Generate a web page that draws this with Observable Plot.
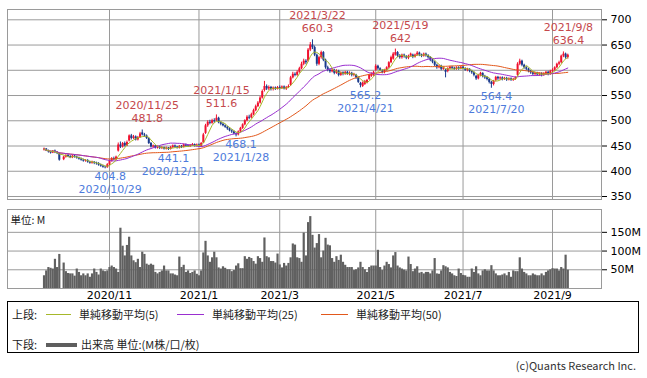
<!DOCTYPE html>
<html>
<head>
<meta charset="utf-8">
<script src="https://cdn.jsdelivr.net/npm/d3@7"></script>
<script src="https://cdn.jsdelivr.net/npm/@observablehq/plot@0.6"></script>
<style>
  html, body { margin: 0; padding: 0; background: #fff; }
  #wrap { position: relative; width: 647px; height: 378px; overflow: hidden; font-family: "DejaVu Sans", "Noto Sans CJK JP", sans-serif; }
  #price { position: absolute; left: 0; top: 0; }
  #vol { position: absolute; left: 0; top: 200px; }
  #legend { position: absolute; left: 7px; top: 301px; width: 632px; height: 52px; border: 1px solid #000; box-sizing: border-box; }
  .lg { position: absolute; font-family: "Noto Sans CJK JP", sans-serif; font-size: 11px; color: #222; line-height: 14px; white-space: nowrap; }
  .ln { position: absolute; height: 1px; }
  #copy { position: absolute; right: 11px; top: 358px; font-family: "Noto Sans CJK JP", sans-serif; font-size: 11px; color: #333; line-height: 14px; }
  #err { position: absolute; left: 10px; top: 10px; color: red; font-size: 12px; }
</style>
</head>
<body>
<div id="wrap">
  <div id="price"></div>
  <div id="vol"></div>
  <div id="legend"></div>
  <div id="copy">(c)Quants Research Inc.</div>
  <div id="err"></div>
</div>
<script>
// ---------- data ----------
const holidays = ["2020-09-21","2020-09-22","2020-11-03","2020-11-23","2020-12-31","2021-01-01","2021-01-11",
  "2021-02-11","2021-02-23","2021-04-29","2021-05-03","2021-05-04","2021-05-05","2021-07-22","2021-07-23","2021-08-09"];

const open = [442,444,440,438,436,440,437,435,
  null,
  423,428,431,429,427,430,428,426,424,422,420,421,418,416,418,416,415,412,410,408,407,
  413,420,425,423,440,452,448,455,450,460,470,465,468,462,467,476,472,470,465,
  455,448,450,446,448,445,447,444,446,443,447,450,448,446,449,447,452,450,449,451,453,450,
  452,449,456,475,490,497,495,500,500,505,496,493,490,487,484,480,478,474,472,
  478,485,492,500,507,506,512,520,528,535,545,560,568,563,566,562,565,563,
  566,564,567,563,566,570,585,592,590,596,603,612,618,618,640,650,645,630,612,625,635,620,605,
  600,597,600,594,598,590,595,592,596,592,594,590,590,585,574,568,572,575,582,588,590,
  600,608,603,598,596,600,605,615,622,630,635,628,625,630,627,624,628,630,
  626,630,634,630,628,632,629,625,620,616,610,605,608,602,600,598,603,606,604,602,605,603,
  606,603,600,602,598,595,588,583,590,594,588,585,582,576,572,580,586,583,585,582,
  584,581,583,580,582,590,612,618,610,605,602,598,595,592,594,591,593,590,593,596,592,
  598,600,605,612,615,628,632,625];

const close = [444,440,438,436,440,437,435,422,
  null,
  428,431,429,427,430,428,426,424,422,420,421,418,416,418,416,415,412,410,408,407,413,
  420,425,423,428,452,448,455,450,457,470,465,468,462,467,474,472,470,465,455,
  448,450,446,448,445,447,444,446,443,447,450,448,446,449,447,452,450,449,451,453,450,452,
  449,455,472,490,497,495,500,498,505,496,493,490,487,484,480,478,474,472,478,
  485,492,500,507,505,512,520,528,535,545,558,568,563,566,562,565,563,566,
  564,567,563,566,568,585,592,590,596,603,612,618,615,640,650,645,630,612,625,635,620,605,600,
  597,600,594,598,590,595,592,596,592,594,590,592,585,576,570,575,578,580,590,592,596,
  608,603,600,596,600,605,615,625,632,635,628,625,630,627,624,628,632,626,
  630,634,630,628,632,629,625,620,616,610,605,608,602,605,596,603,606,604,602,605,603,606,
  603,600,602,598,595,590,583,590,594,588,585,582,576,572,578,586,583,585,582,584,
  581,583,580,582,585,612,618,610,605,602,598,595,592,594,591,593,590,593,596,592,598,
  600,605,612,615,628,632,625,630];

const high = [446,445,442,440,441,442,439,436,
  null,
  430,433,434,431,432,432,430,428,426,424,423,423,420,420,419,418,417,414,412,410,415,
  422,427,428,430,456,458,457,458,460,472,473,471,470,469,477,481.8,475,472,466,
  457,452,451,450,449,449,448,448,447,449,452,452,449,451,451,454,454,452,453,455,454,454,
  454,457,475,493,500,501,503,504,511.6,507,498,495,492,489,486,482,480,476,480,
  487,494,502,510,511,515,523,531,538,548,561,578,571,569,568,567,567,568,
  569,569,569,568,571,588,596,595,599,606,616,622,621,643,655,660.3,648,632,628,638,637,622,608,
  603,603,602,601,600,597,597,598,598,597,596,594,592,587,576,577,580,582,592,595,598,
  611,610,605,601,602,607,617,628,635,642,637,631,632,632,629,630,634,632,
  632,637,636,632,634,634,631,627,622,618,612,610,610,607,602,605,608,608,606,607,607,608,
  608,605,604,603,600,597,590,592,596,595,590,587,584,578,580,588,588,587,587,586,
  586,585,585,584,587,615,622,620,612,607,604,600,597,596,596,595,595,595,598,598,600,
  603,607,614,618,630,636.4,634,632];

const low = [440,439,436,434,435,435,433,420,
  null,
  421,426,427,425,425,426,424,422,420,418,418,416,414,414,413,412,410,408,406,404.8,406,
  411,418,421,421,438,445,446,448,449,458,462,463,460,460,465,470,467,463,453,
  446,446,444,444,443,443,442,442,441.1,442,445,446,444,444,445,446,448,447,447,449,448,448,
  447,447,455,473,487,492,493,495,498,494,490,488,485,481,478,475,472,468.1,470,
  476,483,490,498,502,504,510,518,526,533,543,557,560,560,559,559,560,561,
  561,562,561,560,564,568,583,587,588,594,601,609,611,616,637,641,627,608,609,622,617,602,597,
  594,595,591,592,587,588,589,590,590,589,587,587,582,574,565.2,566,570,573,580,586,588,
  598,600,597,593,593,598,603,613,620,628,625,622,622,624,621,621,626,623,
  624,628,627,625,626,626,622,617,613,607,602,603,599,600,585,595,601,601,600,600,600,601,
  601,598,597,595,592,587,580,581,587,585,582,579,573,564.4,569,577,580,580,579,580,
  578,579,578,578,580,588,609,607,602,599,595,592,589,589,588,588,587,588,590,589,590,
  595,598,603,609,613,625,622,622];

const volume = [34,47,56,54,52,78,56,91,
  null,
  68,45,40,39,39,33,52,43,34,39,34,39,30,39,52,43,36,52,47,45,47,
  56,60,56,52,43,161,113,87,115,137,87,74,69,78,56,97,91,65,62,
  65,62,43,39,43,47,60,47,47,39,39,36,34,84,56,62,43,47,40,43,47,38,
  34,47,95,126,87,70,82,97,82,55,52,58,54,50,50,45,48,60,66,
  53,53,85,78,83,80,72,65,85,80,70,135,85,82,72,72,68,92,
  63,55,67,60,67,82,119,116,82,80,70,148,87,176,192,142,108,120,144,82,100,134,116,
  114,80,70,85,75,89,70,62,56,56,56,48,50,55,70,56,50,43,56,60,60,
  60,102,56,48,60,70,64,55,87,96,60,55,52,49,47,84,64,45,
  52,58,41,43,39,43,43,39,47,80,39,38,47,61,58,55,43,39,34,32,52,40,
  35,34,30,30,52,43,58,39,34,47,50,47,47,61,47,39,34,34,36,39,
  34,43,30,47,45,45,82,52,43,39,34,34,39,36,34,34,39,34,43,47,50,
  53,52,52,47,56,52,89,49];

const priceTicks = [350, 400, 450, 500, 550, 600, 650, 700];
const volTicks = [50, 100, 150];
const monthLabels = ["2020/11", "2021/1", "2021/3", "2021/5", "2021/7", "2021/9"];

const hiDates = ["2020/11/25", "2021/1/15", "2021/3/22", "2021/5/19", "2021/9/8"];
const hiValues = [481.8, 511.6, 660.3, 642, 636.4];
const loDates = ["2020/10/29", "2020/12/11", "2021/1/28", "2021/4/21", "2021/7/20"];
const loValues = [404.8, 441.1, 468.1, 565.2, 564.4];

// ---------- build ----------
function tradingDays() {
  const out = [];
  const d = new Date(Date.UTC(2020, 8, 17));
  const end = Date.UTC(2021, 8, 10);
  while (d.getTime() <= end) {
    const wd = d.getUTCDay();
    const iso = d.toISOString().slice(0, 10);
    if (wd !== 0 && wd !== 6 && !holidays.includes(iso)) {
      out.push(`${d.getUTCFullYear()}/${d.getUTCMonth() + 1}/${d.getUTCDate()}`);
    }
    d.setUTCDate(d.getUTCDate() + 1);
  }
  return out;
}
const dates = tradingDays();
const lens = [dates.length, open.length, close.length, high.length, low.length, volume.length];
if (new Set(lens).size !== 1) document.getElementById("err").textContent = "length mismatch: " + lens.join(",");

const rows = dates.map((date, i) => ({i, date, open: open[i], high: high[i], low: low[i], close: close[i], volume: volume[i]}));
const candles = rows.filter(d => d.close != null);
const up = candles.filter(d => d.close >= d.open);
const down = candles.filter(d => d.close < d.open);
const vols = rows.filter(d => d.volume != null);

const tickIdx = monthLabels.map(m => dates.findIndex(s => s.startsWith(m + "/")));
const tickLabel = new Map(tickIdx.map((t, k) => [t, monthLabels[k]]));

const his = hiDates.map((d, k) => ({i: dates.indexOf(d), date: d, value: hiValues[k]}));
const los = loDates.map((d, k) => ({i: dates.indexOf(d), date: d, value: loValues[k]}));

const xDomain = [-16.74, 255.45];
const gridColor = "#9a9a9a";
const UP = "#f0102e", DOWN = "#1a3a8c";
const MA5 = "#a6b82a", MA25 = "#9a2fd0", MA50 = "#e2581c";
const RED = "#c5484c", BLUE = "#4d7bdc";
const font = {fontFamily: "'DejaVu Sans', sans-serif", fontSize: "11px", color: "#000", background: "transparent", overflow: "visible"};

const pricePlot = Plot.plot({
  width: 647, height: 205,
  marginLeft: 7, marginRight: 46, marginTop: 9, marginBottom: 6,
  style: font,
  x: {type: "linear", domain: xDomain, axis: null},
  y: {domain: [344.06, 720.4], axis: "right", ticks: priceTicks, tickSize: 5, tickPadding: 4, label: null},
  marks: [
    Plot.ruleX(tickIdx, {stroke: gridColor}),
    Plot.ruleY(priceTicks, {stroke: gridColor}),
    Plot.frame({stroke: gridColor}),
    Plot.ruleX(up, {x: "i", y1: "low", y2: "high", stroke: UP, strokeWidth: 1}),
    Plot.ruleX(down, {x: "i", y1: "low", y2: "high", stroke: DOWN, strokeWidth: 1}),
    Plot.ruleX(up, {x: "i", y1: "open", y2: "close", stroke: UP, strokeWidth: 2}),
    Plot.ruleX(down, {x: "i", y1: "open", y2: "close", stroke: DOWN, strokeWidth: 2}),
    Plot.lineY(candles, Plot.windowY({k: 50, anchor: "end", reduce: "mean"}, {x: "i", y: "close", stroke: MA50, strokeWidth: 1})),
    Plot.lineY(candles, Plot.windowY({k: 25, anchor: "end", reduce: "mean"}, {x: "i", y: "close", stroke: MA25, strokeWidth: 1})),
    Plot.lineY(candles, Plot.windowY({k: 5, anchor: "end", reduce: "mean"}, {x: "i", y: "close", stroke: MA5, strokeWidth: 1})),
    Plot.text(his, {x: "i", y: "value", text: d => String(d.value), dx: 5, dy: -11, fill: RED, fontSize: 11}),
    Plot.text(his, {x: "i", y: "value", text: "date", dx: 5, dy: -24, fill: RED, fontSize: 11}),
    Plot.text(los, {x: "i", y: "value", text: d => String(d.value), dx: 5, dy: 8, fill: BLUE, fontSize: 11}),
    Plot.text(los, {x: "i", y: "value", text: "date", dx: 5, dy: 21, fill: BLUE, fontSize: 11})
  ]
});
document.getElementById("price").appendChild(pricePlot);

const volPlot = Plot.plot({
  width: 647, height: 105,
  marginLeft: 7, marginRight: 46, marginTop: 9, marginBottom: 17,
  style: font,
  x: {type: "linear", domain: xDomain, axis: "bottom", ticks: tickIdx, tickFormat: t => tickLabel.get(t) ?? "", tickSize: 0, tickPadding: 3, label: null},
  y: {domain: [0, 211], axis: "right", ticks: volTicks, tickFormat: d => d + "M", tickSize: 5, tickPadding: 4, label: null},
  marks: [
    Plot.ruleX(tickIdx, {stroke: gridColor}),
    Plot.ruleY(volTicks, {stroke: gridColor}),
    Plot.frame({stroke: gridColor}),
    Plot.ruleX(vols, {x: "i", y: "volume", stroke: "#606060", strokeWidth: 2.2}),
    Plot.text(["単位: M"], {frameAnchor: "top-left", dx: 3, dy: 7, fill: "#222", fontSize: 10.5, fontFamily: "'Noto Sans CJK JP', sans-serif"})
  ]
});
document.getElementById("vol").appendChild(volPlot);

// ---------- legend ----------
const legendItems = [
  {text: "上段:", left: 12, top: 5},
  {line: MA5, left: 46, width: 25, top: 12, h: 1},
  {text: "単純移動平均(5)", left: 79, top: 5},
  {line: MA25, left: 177, width: 27, top: 12, h: 1},
  {text: "単純移動平均(25)", left: 212, top: 5},
  {line: MA50, left: 321, width: 27, top: 12, h: 1},
  {text: "単純移動平均(50)", left: 356, top: 5},
  {text: "下段:", left: 12, top: 35},
  {line: "#5e5e5e", left: 46, width: 31, top: 41, h: 4},
  {text: "出来高 単位:(M株/口/枚)", left: 81, top: 35}
];
const lg = document.getElementById("legend");
for (const it of legendItems) {
  const el = document.createElement("div");
  if (it.text) {
    el.className = "lg";
    el.textContent = it.text;
    el.style.left = (it.left - 8) + "px";
    el.style.top = it.top + "px";
  } else {
    el.className = "ln";
    el.style.background = it.line;
    el.style.left = (it.left - 8) + "px";
    el.style.width = it.width + "px";
    el.style.top = it.top + "px";
    el.style.height = it.h + "px";
  }
  lg.appendChild(el);
}
</script>
</body>
</html>
